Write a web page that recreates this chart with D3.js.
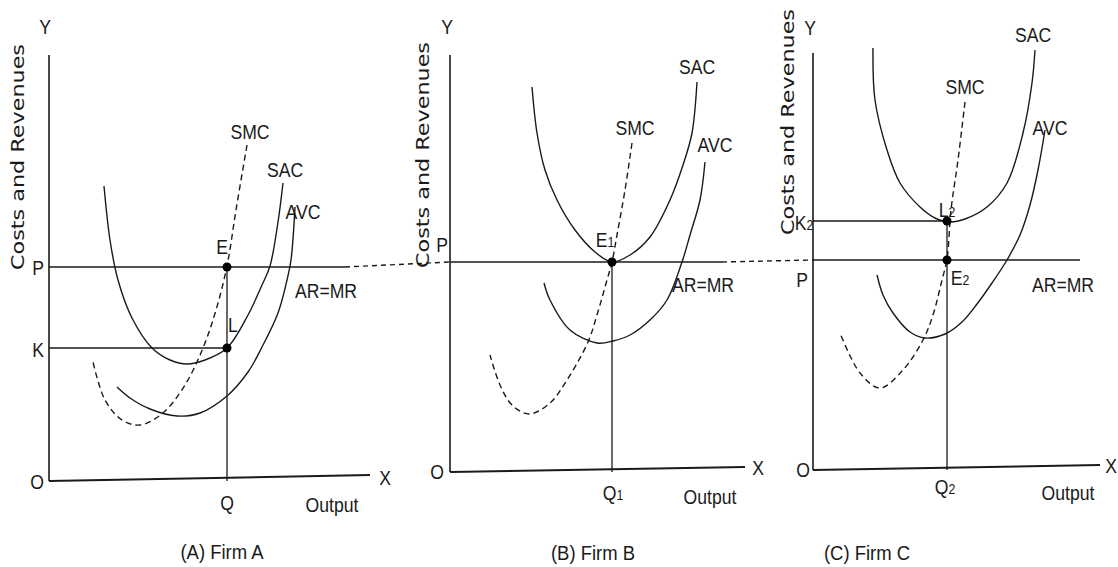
<!DOCTYPE html>
<html>
<head>
<meta charset="utf-8">
<script src="https://cdn.jsdelivr.net/npm/d3@7"></script>
<style>
  body { margin: 0; background: #fff; }
  text { fill: #1a1a1a; }
</style>
</head>
<body>
<script>
// ---- data (output on x, cost / revenue on y, arbitrary units) ----
var panelNames = ["(A) Firm A", "(B) Firm B", "(C) Firm C"];
var priceLevel = [21.4, 21.0, 21.0];      // P (AR=MR)
var outputLevel = [17.8, 16.2, 13.4];     // Q, Q1, Q2
var lossLevel = [13.3, null, 24.9];       // K, -, K2

// Firm A
var smcA = [[19.8,33.6],[18.7,27.1],[17.8,21.5],[16.7,17.1],[15.4,13.3],[13.6,9.6],[11.4,6.8],[9.1,5.6],[7.3,6.1],[5.6,8.1],[4.4,11.9]];
var sacA = [[5.5,29.5],[6.1,24.1],[6.9,20.1],[8.3,16.3],[10.3,13.3],[12.1,12.1],[13.8,11.7],[15.6,12.1],[17.8,13.3],[19.9,16.6],[21.3,19.6],[22.1,21.5],[22.9,25.9],[23.4,29.8]];
var avcA = [[6.8,9.4],[8.1,8.3],[10.1,7.2],[12.8,6.5],[15.1,6.8],[17.8,8.5],[19.9,10.9],[21.3,13.4],[22.9,16.8],[23.8,20.1],[24.2,22.1],[24.6,27.4]];

// Firm B
var smcB = [[18.2,32.9],[17.5,28.2],[16.7,23.7],[16.2,21.0],[15.7,19.2],[14.7,15.7],[13.8,13.0],[11.7,9.2],[10.0,6.9],[7.9,5.8],[6.2,6.7],[5.0,8.7],[4.0,11.7]];
var sacB = [[8.2,38.5],[8.7,33.9],[9.5,30.2],[10.7,27.2],[12.5,24.2],[14.5,22.0],[16.2,21.0],[18.0,21.7],[20.0,23.5],[22.0,27.2],[23.3,30.7],[24.2,33.9],[24.7,39.0]];
var avcB = [[9.4,18.9],[10.0,17.2],[12.0,14.2],[14.7,12.9],[16.3,13.1],[18.0,13.7],[20.0,15.2],[21.7,17.2],[23.2,21.0],[24.0,23.7],[25.0,27.2],[25.5,31.0]];

// Firm C
var smcC = [[15.2,36.8],[14.5,31.0],[13.8,26.0],[13.4,21.1],[12.9,19.0],[12.0,15.5],[11.0,13.0],[9.0,10.0],[6.7,8.2],[4.7,9.7],[2.7,13.7]];
var sacC = [[6.0,42.2],[6.2,37.0],[7.4,32.0],[8.7,28.7],[10.7,26.3],[12.2,25.2],[13.7,24.8],[15.2,25.1],[17.4,26.3],[19.4,28.7],[21.0,33.7],[21.9,38.7],[22.2,42.0]];
var avcC = [[6.4,19.5],[7.0,17.5],[8.0,15.7],[9.7,13.8],[11.2,13.2],[13.2,13.6],[14.9,14.8],[16.4,16.6],[17.9,18.7],[19.4,21.0],[20.7,23.5],[21.7,26.5],[22.5,30.0],[23.2,34.0]];

// label text + position in data units
var labelsA = [
  {t:"Y", p:[-0.4,45.4]}, {t:"X", p:[33.6,0.3]}, {t:"O", p:[-1.2,-0.1]},
  {t:"P", p:[-1.1,21.3]}, {t:"K", p:[-1.1,13.1]}, {t:"E", p:[17.3,23.4]},
  {t:"L", p:[18.4,15.6]}, {t:"Q", p:[17.8,-2.2]}, {t:"Output", p:[28.3,-2.4]},
  {t:"SMC", p:[20.1,34.9]}, {t:"SAC", p:[23.6,31.1]}, {t:"AVC", p:[25.4,26.9]},
  {t:"AR=MR", p:[27.7,19.0]}
];
var labelsB = [
  {t:"Y", p:[-0.3,44.5]}, {t:"X", p:[30.8,0.4]}, {t:"O", p:[-1.3,0]},
  {t:"P", p:[-0.8,22.7]}, {t:"E", s:"1", p:[15.5,23.2]}, {t:"Q", s:"1", p:[16.3,-2.1]},
  {t:"Output", p:[26.0,-2.5]}, {t:"SMC", p:[18.5,34.4]}, {t:"SAC", p:[24.7,40.5]},
  {t:"AVC", p:[26.5,32.7]}, {t:"AR=MR", p:[25.3,18.7]}
];
var labelsC = [
  {t:"Y", p:[-0.3,44.2]}, {t:"X", p:[29.8,0.4]}, {t:"O", p:[-1.0,0]},
  {t:"P", p:[-1.1,19.0]}, {t:"K", s:"2", p:[-0.9,24.7]}, {t:"L", s:"2", p:[13.4,26.0]},
  {t:"E", s:"2", p:[14.7,19.2]}, {t:"Q", s:"2", p:[13.2,-1.7]}, {t:"Output", p:[25.5,-2.3]},
  {t:"SMC", p:[15.2,38.3]}, {t:"SAC", p:[22.0,43.5]}, {t:"AVC", p:[23.7,34.2]},
  {t:"AR=MR", p:[25.0,18.5]}
];

// ---- layout ----
var W = 1118, H = 567;
var ink = "#1a1a1a";
var labelFont = "'Liberation Sans', Arial, sans-serif";

var panels = [
  {origin:[49,481], xEnd:32.1, tilt:0.6, yTop:42.6, pEnd:29.6, smc:smcA, sac:sacA, avc:avcA, labels:labelsA, title:[17.3,-7.1], yTitle:[-3.1,32.4]},
  {origin:[450,472], xEnd:29.5, tilt:0.5, yTop:41.7, pEnd:27.2, smc:smcB, sac:sacB, avc:avcB, labels:labelsB, title:[14.3,-8.1], yTitle:[-2.7,31.7]},
  {origin:[813,470], xEnd:28.7, tilt:0.5, yTop:41.7, pEnd:26.7, smc:smcC, sac:sacC, avc:avcC, labels:labelsC, title:[5.4,-8.3], yTitle:[-2.5,34.8]}
];

var svg = d3.select("body").append("svg")
  .attr("width", W)
  .attr("height", H);

panels.forEach(function (pn) {
  pn.x = d3.scaleLinear().domain([0, 10]).range([pn.origin[0], pn.origin[0] + 100]);
  pn.y = d3.scaleLinear().domain([0, 10]).range([pn.origin[1], pn.origin[1] - 100]);
});

// dashed link between the price lines of neighbouring firms
for (var i = 0; i < panels.length - 1; i++) {
  var a = panels[i], b = panels[i + 1];
  svg.append("line")
    .attr("x1", a.x(a.pEnd)).attr("y1", a.y(priceLevel[i]))
    .attr("x2", b.x(0)).attr("y2", b.y(priceLevel[i + 1]))
    .attr("stroke", ink).attr("stroke-width", 1.4)
    .attr("stroke-dasharray", "5,4");
}

panels.forEach(function (pn, i) {
  var g = svg.append("g");
  var x = pn.x, y = pn.y;

  var line = d3.line()
    .x(function (d) { return x(d[0]); })
    .y(function (d) { return y(d[1]); })
    .curve(d3.curveCatmullRom.alpha(0.5));

  // axes
  g.append("line")
    .attr("x1", x(0)).attr("y1", y(0)).attr("x2", x(0)).attr("y2", y(pn.yTop))
    .attr("stroke", ink).attr("stroke-width", 1.6);
  g.append("line")
    .attr("x1", x(0)).attr("y1", y(0)).attr("x2", x(pn.xEnd)).attr("y2", y(pn.tilt))
    .attr("stroke", ink).attr("stroke-width", 2);

  // price line AR=MR
  g.append("line")
    .attr("x1", x(0)).attr("y1", y(priceLevel[i]))
    .attr("x2", x(pn.pEnd)).attr("y2", y(priceLevel[i]))
    .attr("stroke", ink).attr("stroke-width", 1.6);

  // cost curves
  g.append("path").attr("d", line(pn.sac))
    .attr("fill", "none").attr("stroke", ink).attr("stroke-width", 1.4);
  g.append("path").attr("d", line(pn.avc))
    .attr("fill", "none").attr("stroke", ink).attr("stroke-width", 1.4);
  g.append("path").attr("d", line(pn.smc))
    .attr("fill", "none").attr("stroke", ink).attr("stroke-width", 1.4)
    .attr("stroke-dasharray", "6,4");

  // output line + K line
  var top = Math.max(priceLevel[i], lossLevel[i] || 0);
  g.append("line")
    .attr("x1", x(outputLevel[i])).attr("y1", y(top))
    .attr("x2", x(outputLevel[i])).attr("y2", y(0))
    .attr("stroke", ink).attr("stroke-width", 1.3);
  if (lossLevel[i] != null) {
    g.append("line")
      .attr("x1", x(0)).attr("y1", y(lossLevel[i]))
      .attr("x2", x(outputLevel[i])).attr("y2", y(lossLevel[i]))
      .attr("stroke", ink).attr("stroke-width", 1.6);
  }

  // points E, L
  var dots = [[outputLevel[i], priceLevel[i]]];
  if (lossLevel[i] != null) dots.push([outputLevel[i], lossLevel[i]]);
  g.selectAll("circle")
    .data(dots)
    .enter()
    .append("circle")
    .attr("cx", function (d) { return x(d[0]); })
    .attr("cy", function (d) { return y(d[1]); })
    .attr("r", 4.5)
    .attr("fill", "#000");

  // labels (narrowed to look like the original's condensed face)
  var lab = g.selectAll("text.lab")
    .data(pn.labels)
    .enter()
    .append("text")
    .attr("class", "lab")
    .attr("transform", function (d) {
      return "translate(" + x(d.p[0]) + "," + y(d.p[1]) + ") scale(0.88,1)";
    })
    .attr("text-anchor", "middle")
    .attr("dominant-baseline", "central")
    .style("font-family", labelFont)
    .style("font-size", "20px");
  lab.append("tspan").text(function (d) { return d.t; });
  lab.filter(function (d) { return d.s; })
    .append("tspan")
    .style("font-size", "14px")
    .attr("dy", 2)
    .text(function (d) { return d.s; });

  // panel title
  g.append("text")
    .attr("transform", "translate(" + x(pn.title[0]) + "," + y(pn.title[1]) + ") scale(0.88,1)")
    .attr("text-anchor", "middle")
    .attr("dominant-baseline", "central")
    .style("font-family", labelFont)
    .style("font-size", "21px")
    .text(panelNames[i]);

  // y axis title
  g.append("text")
    .attr("transform", "translate(" + x(pn.yTitle[0]) + "," + y(pn.yTitle[1]) + ") rotate(-90)")
    .attr("text-anchor", "middle")
    .attr("dominant-baseline", "central")
    .style("font-family", "'DejaVu Sans', sans-serif")
    .style("font-size", "17px")
    .attr("textLength", 226)
    .attr("lengthAdjust", "spacingAndGlyphs")
    .text("Costs and Revenues");
});
</script>
</body>
</html>
